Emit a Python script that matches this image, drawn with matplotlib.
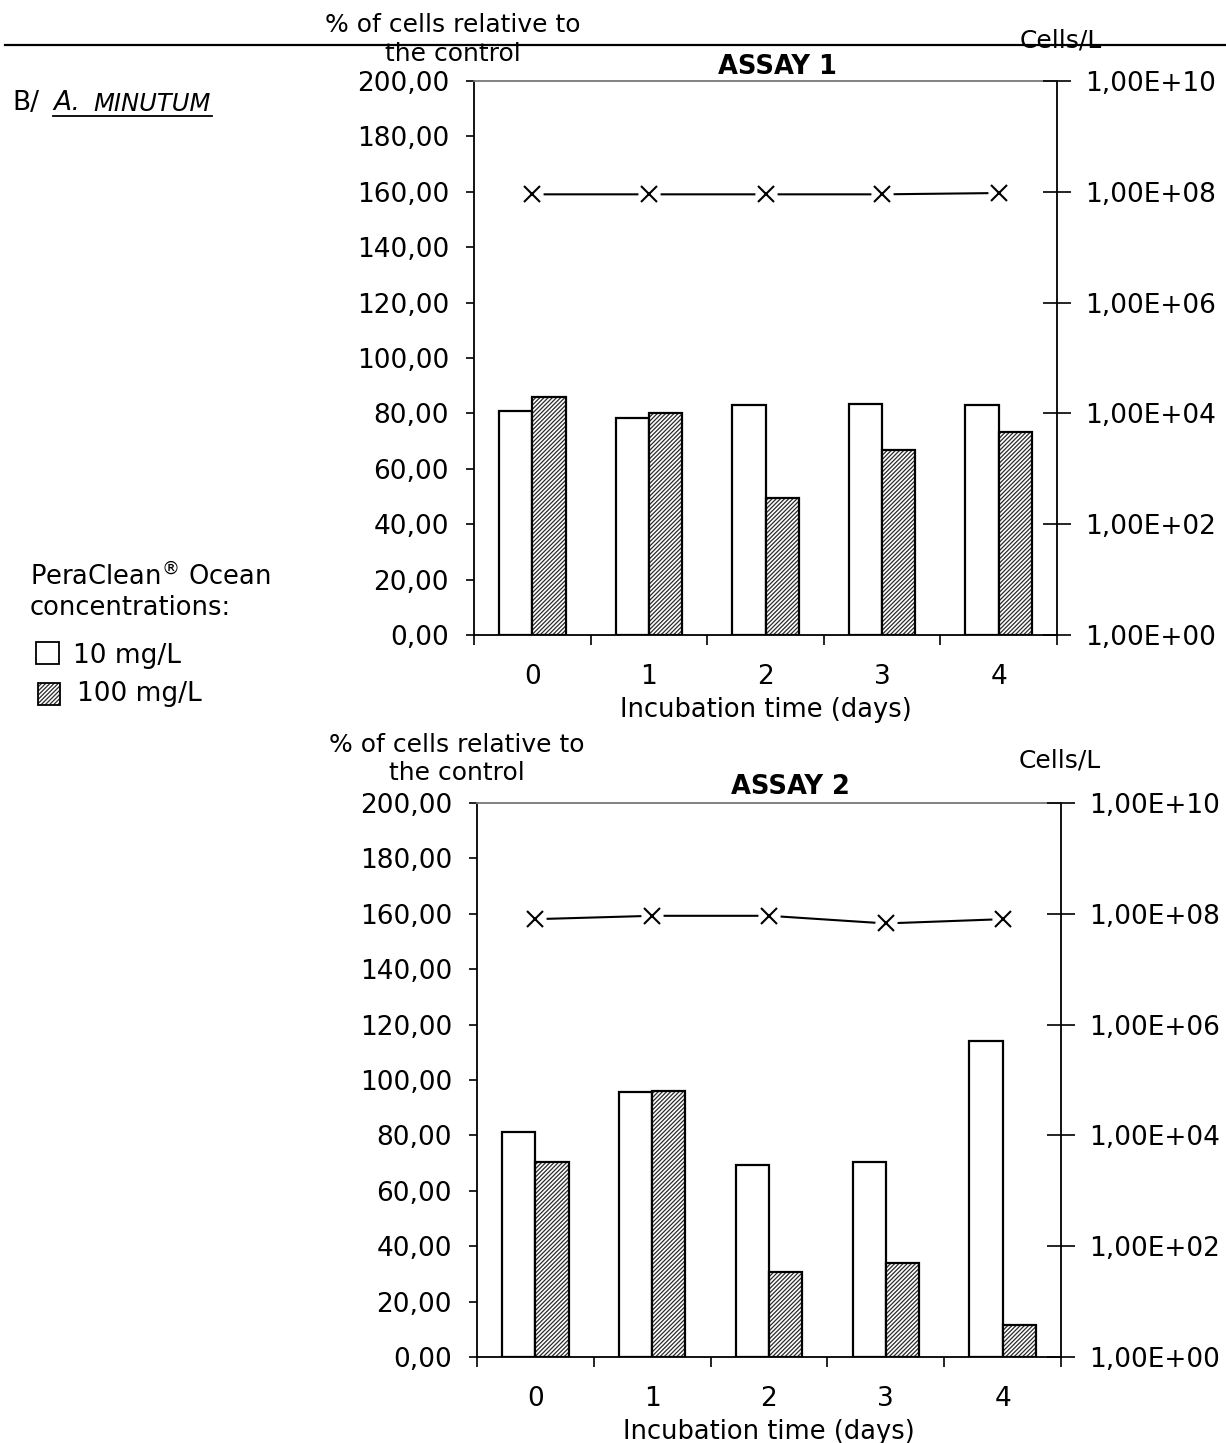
import numpy as np
import matplotlib
matplotlib.use("Agg")
import matplotlib.pyplot as plt
from matplotlib.ticker import FuncFormatter, NullLocator
from matplotlib.patches import Rectangle
from matplotlib.lines import Line2D

# data
days = [0, 1, 2, 3, 4]
series_labels = ["10 mg/L", "100 mg/L"]

assay1_10 = [80.9, 78.2, 82.9, 83.4, 82.9]
assay1_100 = [86.0, 80.1, 49.5, 66.7, 73.2]
assay1_cells = [9.0e7, 9.0e7, 9.0e7, 9.0e7, 9.5e7]

assay2_10 = [81.3, 95.5, 69.2, 70.4, 114.2]
assay2_100 = [70.4, 96.2, 30.8, 34.0, 11.6]
assay2_cells = [8.0e7, 9.2e7, 9.2e7, 6.7e7, 8.0e7]

left_ticks = [0, 20, 40, 60, 80, 100, 120, 140, 160, 180, 200]
right_ticks = [1e0, 1e2, 1e4, 1e6, 1e8, 1e10]

W, H = 1226, 1443
plt.rcParams['font.family'] = ['DejaVu Sans']
plt.rcParams['hatch.linewidth'] = 0.9
plt.rcParams['hatch.color'] = '#2a2a2a'

fig = plt.figure(figsize=(W / 100, H / 100), dpi=100)

HATCH = '////////'


def fx(px):
    return px / W


def fy(py):
    return 1 - py / H


def comma(v, pos=None):
    return f"{v:.2f}".replace('.', ',')


def sci(v, pos=None):
    return f"{v:.2E}".replace('.', ',')


bw = 0.285


def panel(rect, vals10, vals100, cells, title, title_x, title_y):
    ax = fig.add_axes(rect)
    x = np.array(days)
    ax.bar(x - bw / 2, vals10, bw, color='white', edgecolor='black',
           linewidth=1.6, zorder=2)
    ax.bar(x + bw / 2, vals100, bw, color='white', edgecolor='#2a2a2a',
           hatch=HATCH, linewidth=0, zorder=2)
    ax.bar(x + bw / 2, vals100, bw, fill=False, edgecolor='black',
           linewidth=1.6, zorder=3)
    ax.set_xlim(-0.5, 4.5)
    ax.set_ylim(0, 200)
    ax.set_yticks(left_ticks)
    ax.yaxis.set_major_formatter(FuncFormatter(comma))
    ax.set_xticks(x)
    ax.set_xticklabels([str(d) for d in days])
    ax.set_xticks(np.arange(-0.5, 5.0, 1.0), minor=True)
    ax.tick_params(axis='x', which='major', length=0, pad=21, labelsize=19)
    ax.tick_params(axis='x', which='minor', length=7, width=1.2,
                   direction='out')
    ax.tick_params(axis='y', length=6, width=1.2, direction='out', pad=12,
                   labelsize=19)
    for s in ax.spines.values():
        s.set_linewidth(1.3)
    ax.spines['top'].set_color('#777777')
    ax.set_xlabel('Incubation time (days)', fontsize=18.5, labelpad=5)

    ax2 = ax.twinx()
    ax2.set_yscale('log')
    ax2.set_ylim(1, 1e10)
    ax2.set_yticks(right_ticks)
    ax2.yaxis.set_minor_locator(NullLocator())
    ax2.yaxis.set_major_formatter(FuncFormatter(sci))
    ax2.tick_params(axis='y', length=20, width=1.2, direction='inout',
                    pad=10, labelsize=19)
    for s in ax2.spines.values():
        s.set_visible(False)
    ax2.plot(x, cells, color='black', linewidth=1.5, zorder=3)
    ax2.plot(x, cells, linestyle='none', marker='o', markersize=15,
             markerfacecolor='white', markeredgecolor='white', zorder=4)
    ax2.plot(x, cells, linestyle='none', marker='x', markersize=12,
             markeredgewidth=1.5, color='black', zorder=5)
    fig.text(title_x, title_y, title, fontsize=18.5, fontweight='bold',
             ha='center', va='center')
    return ax


panel([fx(474), fy(635), fx(1057) - fx(474), fy(81) - fy(635)],
      assay1_10, assay1_100, assay1_cells, 'ASSAY 1', fx(777), fy(67))
panel([fx(477), fy(1357), fx(1061) - fx(477), fy(803) - fy(1357)],
      assay2_10, assay2_100, assay2_cells, 'ASSAY 2', fx(790), fy(787))

# axis titles above the axes
fig.text(fx(453), fy(25), '% of cells relative to', fontsize=18,
         ha='center', va='center')
fig.text(fx(453), fy(54), 'the control', fontsize=18,
         ha='center', va='center')
fig.text(fx(1061), fy(41), 'Cells/L', fontsize=18, ha='center', va='center')
fig.text(fx(457), fy(745), '% of cells relative to', fontsize=18,
         ha='center', va='center')
fig.text(fx(457), fy(773), 'the control', fontsize=18,
         ha='center', va='center')
fig.text(fx(1060), fy(761), 'Cells/L', fontsize=18, ha='center', va='center')

# rule across the top
fig.add_artist(Line2D([fx(5), fx(1226)], [fy(45), fy(45)], color='black',
                      linewidth=1.6, zorder=10))

# panel label
fig.text(fx(12), fy(103), 'B/', fontsize=19, ha='left', va='center')
fig.text(fx(53), fy(103), 'A.', fontsize=19, style='italic',
         ha='left', va='center')
fig.text(fx(93), fy(104), 'MINUTUM', fontsize=17.5, style='italic',
         ha='left', va='center')
fig.add_artist(Line2D([fx(53), fx(212)], [fy(116), fy(116)], color='black',
                      linewidth=1.3))

# legend
fig.text(fx(30), fy(577), r'PeraClean$^{\circledR}$ Ocean', fontsize=18.5,
         ha='left', va='center')
fig.text(fx(30), fy(608), 'concentrations:', fontsize=18.5,
         ha='left', va='center')
fig.add_artist(Rectangle((fx(36), fy(664)), fx(23), fy(642) - fy(664),
                         facecolor='white', edgecolor='black', linewidth=1.3))
fig.add_artist(Rectangle((fx(38), fy(705)), fx(22), fy(683) - fy(705),
                         facecolor='white', edgecolor='#2a2a2a',
                         hatch=HATCH, linewidth=0))
fig.add_artist(Rectangle((fx(38), fy(705)), fx(22), fy(683) - fy(705),
                         fill=False, edgecolor='black', linewidth=1.3))
fig.text(fx(73), fy(656), series_labels[0], fontsize=19,
         ha='left', va='center')
fig.text(fx(77), fy(694), series_labels[1], fontsize=19,
         ha='left', va='center')

fig.savefig('out.png', dpi=100)
